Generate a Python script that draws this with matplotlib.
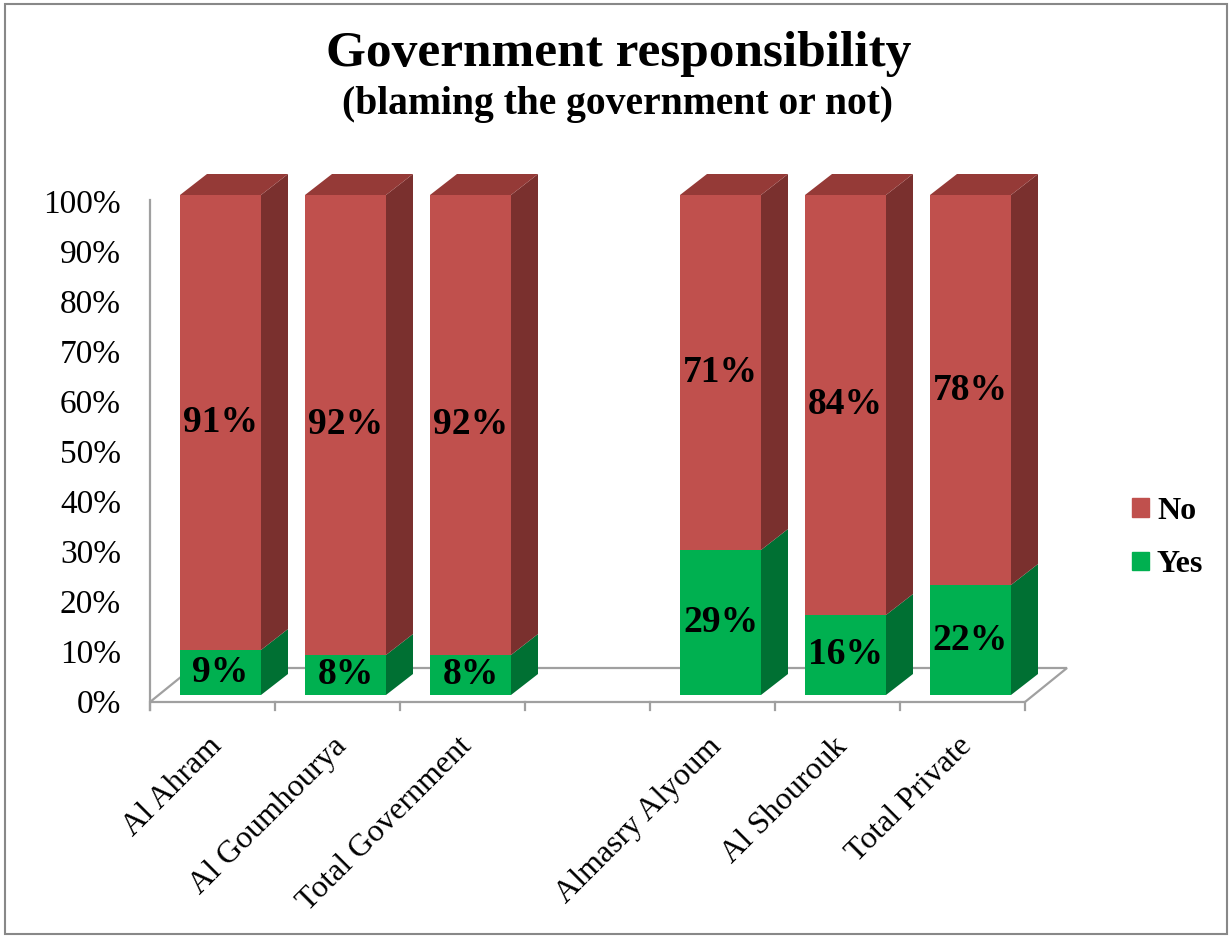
import matplotlib.pyplot as plt
from matplotlib.patches import Polygon, Rectangle, Patch

plt.rcParams['font.family'] = ['Liberation Serif', 'DejaVu Serif']

categories = ['Al Ahram', 'Al Goumhourya', 'Total Government', '',
              'Almasry Alyoum', 'Al Shourouk', 'Total Private']
yes_vals = [9, 8, 8, None, 29, 16, 22]
no_vals = [91, 92, 92, None, 71, 84, 78]
y_ticks = [0, 10, 20, 30, 40, 50, 60, 70, 80, 90, 100]

# colours (front, side, top)
red_front, red_side, red_top = '#C0504D', '#7A302E', '#953A37'
green_front, green_side = '#00B050', '#007033'
grey = '#A0A0A0'

# fake 3d geometry, in data units
lift = 2.0          # bars sit a bit behind the front of the floor
ddx, ddy = 0.216, 4.2   # bar depth
fdx, fdy = 0.336, 6.8   # floor depth
floor_y = 0.6
bw = 0.648
n = len(categories)

fig = plt.figure(figsize=(12.32, 9.38), dpi=100)
ax = fig.add_axes([0, 0, 1, 1])
ax.set_xlim(-1.7, 8.156)
ax.set_ylim(-46.6, 141)
ax.axis('off')

# floor outline
floor = Polygon([(-0.5, floor_y), (n - 0.5, floor_y), (n - 0.5 + fdx, floor_y + fdy),
                 (-0.5 + fdx, floor_y + fdy)], closed=True, facecolor='none',
                edgecolor=grey, lw=1.6, zorder=1)
ax.add_patch(floor)
# value axis line and category ticks
ax.plot([-0.5, -0.5], [-1, 101], color=grey, lw=1.6, zorder=1)
for k in range(n + 1):
    ax.plot([k - 0.5, k - 0.5], [floor_y, -1], color=grey, lw=1.6, zorder=1)

for v in y_ticks:
    ax.text(-0.732, v, f'{v}%', ha='right', va='center', fontsize=24)


def side(x, b, t, c):
    ax.add_patch(Polygon([(x, b), (x + ddx, b + ddy), (x + ddx, t + ddy), (x, t)],
                         closed=True, facecolor=c, edgecolor='none', zorder=3))


for i, (cat, y, nv) in enumerate(zip(categories, yes_vals, no_vals)):
    if y is None:
        continue
    left = i - 0.26
    right = left + bw
    ax.bar(left, y, width=bw, bottom=lift, align='edge', color=green_front, zorder=3)
    ax.bar(left, nv, width=bw, bottom=lift + y, align='edge', color=red_front, zorder=3)
    side(right, lift, lift + y, green_side)
    side(right, lift + y, lift + y + nv, red_side)
    top = lift + y + nv
    ax.add_patch(Polygon([(left, top), (left + ddx, top + ddy), (right + ddx, top + ddy),
                          (right, top)], closed=True, facecolor=red_top,
                         edgecolor='none', zorder=3))
    cx = left + bw / 2
    ax.text(cx, lift + y / 2, f'{y}%', ha='center', va='center', fontsize=27,
            fontweight='bold', zorder=4)
    ax.text(cx, lift + y + nv / 2, f'{nv}%', ha='center', va='center', fontsize=27,
            fontweight='bold', zorder=4)

for i, cat in enumerate(categories):
    if not cat:
        continue
    ax.text(i + 0.04, -7.4, cat, rotation=45, rotation_mode='anchor', ha='right',
            va='center', fontsize=23)

fig.text(619 / 1232, 1 - 66 / 938, 'Government responsibility', ha='center',
         va='baseline', fontsize=37, fontweight='bold')
fig.text(617 / 1232, 1 - 114 / 938, '(blaming the government or not)', ha='center',
         va='baseline', fontsize=28.5, fontweight='bold')

handles = [Patch(color=red_front, label='No'), Patch(color=green_front, label='Yes')]
leg = fig.legend(handles=handles, loc='center left', bbox_to_anchor=(1132 / 1232, 1 - 538 / 938),
                 frameon=False, borderpad=0, borderaxespad=0, handlelength=0.53,
                 handleheight=0.53, handletextpad=0.25, labelspacing=0.77,
                 prop={'size': 23, 'weight': 'bold'})

fig.patches.append(Rectangle((5 / 1232, 4 / 938), 1222 / 1232, 930 / 938, transform=fig.transFigure,
                             fill=False, edgecolor='#888888', lw=1.5))

fig.savefig('out.png', dpi=100)
